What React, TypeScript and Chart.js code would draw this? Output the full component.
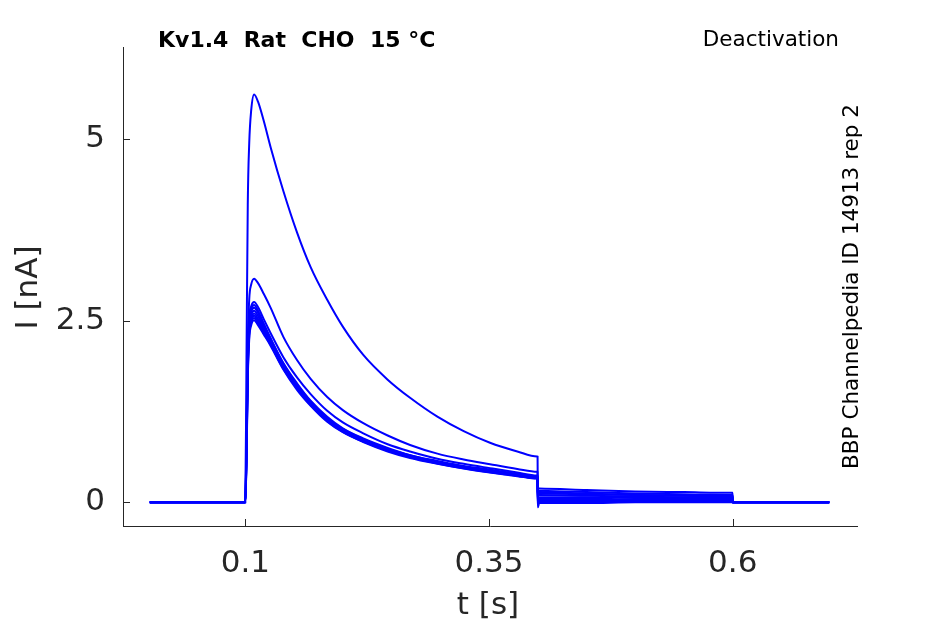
import React, { useEffect, useRef } from "react";
import { Chart, registerables } from "chart.js";

Chart.register(...registerables);

// ---- data ----
const TIMES = [0.002, 0.1, 0.1012, 0.1025, 0.104, 0.106, 0.109, 0.113, 0.119, 0.126, 0.139, 0.153, 0.167, 0.184, 0.2, 0.221, 0.246, 0.269, 0.297, 0.324, 0.351, 0.379, 0.3995, 0.3998, 0.4, 0.4015, 0.45, 0.5, 0.55, 0.5995, 0.5998, 0.6, 0.699];

const TRACE_A = [0, 0, 2.0, 4.1, 4.95, 5.4, 5.62, 5.52, 5.25, 4.89, 4.29, 3.72, 3.24, 2.79, 2.42, 2.03, 1.69, 1.44, 1.18, 0.98, 0.82, 0.7, 0.63, 0.629, 0.21, 0.19, 0.17, 0.15, 0.14, 0.13, 0.13, 0, 0];
const TRACE_B = [0, 0, 1.0, 2.2, 2.8, 3.0, 3.08, 3.02, 2.87, 2.68, 2.28, 1.96, 1.7, 1.45, 1.27, 1.09, 0.92, 0.79, 0.67, 0.59, 0.525, 0.46, 0.42, 0.419, 0.18, 0.16, 0.14, 0.12, 0.11, 0.1, 0.1, 0, 0];
const TRACE_C = [0, 0, 0.9, 2.0, 2.55, 2.7, 2.76, 2.69, 2.52, 2.33, 2.0, 1.72, 1.49, 1.26, 1.1, 0.95, 0.8, 0.7, 0.6, 0.53, 0.47, 0.41, 0.37, 0.369, 0.15, 0.14, 0.12, 0.1, 0.09, 0.09, 0.09, 0, 0];
const TRACE_D1 = [0, 0, 0.85, 2.0, 2.5, 2.66, 2.72, 2.64, 2.46, 2.26, 1.92, 1.64, 1.4, 1.18, 1.02, 0.88, 0.75, 0.65, 0.57, 0.5, 0.45, 0.39, 0.36, 0.359, 0.13, 0.12, 0.11, 0.1, 0.09, 0.08, 0.08, 0, 0];
const TRACE_D2 = [0, 0, 0.8, 1.95, 2.45, 2.62, 2.68, 2.61, 2.43, 2.24, 1.91, 1.62, 1.39, 1.16, 1.01, 0.87, 0.74, 0.65, 0.56, 0.49, 0.44, 0.39, 0.35, 0.349, 0.1, 0.1, 0.09, 0.08, 0.07, 0.07, 0.07, 0, 0];
const TRACE_D3 = [0, 0, 0.75, 1.9, 2.42, 2.58, 2.64, 2.57, 2.4, 2.22, 1.89, 1.61, 1.37, 1.15, 1.0, 0.86, 0.73, 0.64, 0.55, 0.49, 0.43, 0.38, 0.35, 0.349, 0.07, 0.07, 0.07, 0.06, 0.06, 0.05, 0.05, 0, 0];
const TRACE_D4 = [0, 0, 0.7, 1.85, 2.38, 2.54, 2.6, 2.53, 2.37, 2.2, 1.87, 1.59, 1.36, 1.14, 0.99, 0.85, 0.72, 0.63, 0.545, 0.48, 0.425, 0.375, 0.34, 0.339, 0.04, 0.05, 0.05, 0.04, 0.04, 0.04, 0.04, 0, 0];
const TRACE_D5 = [0, 0, 0.65, 1.8, 2.35, 2.5, 2.57, 2.5, 2.35, 2.185, 1.86, 1.58, 1.35, 1.13, 0.98, 0.84, 0.715, 0.625, 0.54, 0.475, 0.42, 0.37, 0.335, 0.334, 0.02, 0.03, 0.03, 0.03, 0.03, 0.02, 0.02, 0, 0];
const TRACE_D6 = [0, 0, 0.6, 1.75, 2.3, 2.47, 2.54, 2.47, 2.33, 2.17, 1.84, 1.57, 1.34, 1.12, 0.97, 0.835, 0.71, 0.62, 0.535, 0.47, 0.415, 0.366, 0.33, 0.329, -0.02, 0.01, 0.01, 0.01, 0.01, 0.01, 0.01, 0, 0];
const TRACE_D7 = [0, 0, 0.55, 1.7, 2.25, 2.44, 2.51, 2.44, 2.31, 2.155, 1.83, 1.55, 1.33, 1.11, 0.965, 0.83, 0.7, 0.61, 0.53, 0.465, 0.41, 0.36, 0.326, 0.325, -0.07, -0.01, -0.01, 0, 0, 0, 0, 0, 0];

const TRACES = [TRACE_D7, TRACE_D6, TRACE_D5, TRACE_D4, TRACE_D3, TRACE_D2, TRACE_D1, TRACE_C, TRACE_B, TRACE_A];

const X_TICKS = [0.1, 0.35, 0.6];
const X_TICK_LABELS = ["0.1", "0.35", "0.6"];
const Y_TICKS = [0, 2.5, 5];
const Y_TICK_LABELS = ["0", "2.5", "5"];

const TITLE = "Kv1.4  Rat  CHO  15 °C";
const PROTOCOL = "Deactivation";
const SOURCE = "BBP Channelpedia ID 14913 rep 2";
const X_LABEL = "t [s]";
const Y_LABEL = "I [nA]";

const FONT = "'DejaVu Sans', 'Liberation Sans', sans-serif";
const AXIS_COLOR = "#262626";
const TRACE_COLOR = "#0000ff";

const decorPlugin = {
  id: "decor",
  afterDraw(chart: any) {
    const { ctx, chartArea } = chart;
    const xs = chart.scales.x;
    const ys = chart.scales.y;
    ctx.save();
    // inward tick marks
    ctx.strokeStyle = AXIS_COLOR;
    ctx.lineWidth = 1;
    ctx.beginPath();
    X_TICKS.forEach((v) => {
      const px = Math.round(xs.getPixelForValue(v)) + 0.5;
      ctx.moveTo(px, chartArea.bottom);
      ctx.lineTo(px, chartArea.bottom - 7);
    });
    Y_TICKS.forEach((v) => {
      const py = Math.round(ys.getPixelForValue(v)) + 0.5;
      ctx.moveTo(chartArea.left, py);
      ctx.lineTo(chartArea.left + 7, py);
    });
    ctx.stroke();

    // title
    ctx.fillStyle = "#000000";
    ctx.textBaseline = "alphabetic";
    ctx.font = `bold 22px ${FONT}`;
    ctx.textAlign = "left";
    ctx.fillText(TITLE, chartArea.left + 35, 47);

    ctx.font = `21.5px ${FONT}`;
    ctx.textAlign = "right";
    ctx.fillText(PROTOCOL, chartArea.right - 18, 46);

    // vertical source text
    ctx.save();
    ctx.translate(chartArea.right + 1, (chartArea.top + chartArea.bottom) / 2);
    ctx.rotate(-Math.PI / 2);
    ctx.textAlign = "center";
    ctx.font = `21.5px ${FONT}`;
    ctx.fillText(SOURCE, 0, 0);
    ctx.restore();

    // axis titles
    ctx.fillStyle = AXIS_COLOR;
    ctx.font = `31px ${FONT}`;
    ctx.textAlign = "center";
    ctx.fillText(X_LABEL, (chartArea.left + chartArea.right) / 2 - 2, 614);

    ctx.save();
    ctx.translate(37, (chartArea.top + chartArea.bottom) / 2 + 1);
    ctx.rotate(-Math.PI / 2);
    ctx.textAlign = "center";
    ctx.fillText(Y_LABEL, 0, 0);
    ctx.restore();

    ctx.restore();
  },
};

export default function App() {
  const canvasRef = useRef<HTMLCanvasElement | null>(null);

  useEffect(() => {
    const canvas = canvasRef.current;
    if (!canvas) return;
    const datasets = TRACES.map((arr) => ({
      data: TIMES.map((t, i) => ({ x: t, y: arr[i] })),
      borderColor: TRACE_COLOR,
      backgroundColor: TRACE_COLOR,
      borderWidth: 2,
      pointRadius: 0,
      fill: false,
      cubicInterpolationMode: "monotone",
    }));
    const chart = new Chart(canvas, {
      type: "line",
      data: { datasets },
      options: {
        animation: false,
        responsive: false,
        devicePixelRatio: 1,
        layout: { padding: { top: 47, right: 88, left: 0, bottom: 0 } },
        plugins: { legend: { display: false }, tooltip: { enabled: false }, title: { display: false } },
        scales: {
          x: {
            type: "linear",
            min: -0.0255,
            max: 0.7275,
            afterBuildTicks: (s: any) => {
              s.ticks = X_TICKS.map((v) => ({ value: v }));
            },
            afterFit: (s: any) => {
              s.height = 98;
            },
            grid: { display: false, drawTicks: false },
            border: { display: true, color: AXIS_COLOR, width: 1 },
            ticks: {
              autoSkip: false,
              maxRotation: 0,
              padding: 19,
              color: AXIS_COLOR,
              font: { family: FONT, size: 31 },
              callback: (v: any) => {
                const i = X_TICKS.indexOf(Number(v));
                return i >= 0 ? X_TICK_LABELS[i] : "";
              },
            },
          },
          y: {
            type: "linear",
            min: -0.327,
            max: 6.274,
            afterBuildTicks: (s: any) => {
              s.ticks = Y_TICKS.map((v) => ({ value: v }));
            },
            afterFit: (s: any) => {
              s.width = 123;
            },
            grid: { display: false, drawTicks: false },
            border: { display: true, color: AXIS_COLOR, width: 1 },
            ticks: {
              autoSkip: false,
              padding: 18,
              color: AXIS_COLOR,
              font: { family: FONT, size: 31 },
              callback: (v: any) => {
                const i = Y_TICKS.indexOf(Number(v));
                return i >= 0 ? Y_TICK_LABELS[i] : "";
              },
            },
          },
        },
      },
      plugins: [decorPlugin],
    } as any);
    return () => chart.destroy();
  }, []);

  return (
    <div style={{ position: "fixed", left: 0, top: 0, width: 945, height: 624, background: "#ffffff" }}>
      <canvas ref={canvasRef} width={945} height={624} style={{ width: 945, height: 624, display: "block" }} />
    </div>
  );
}
